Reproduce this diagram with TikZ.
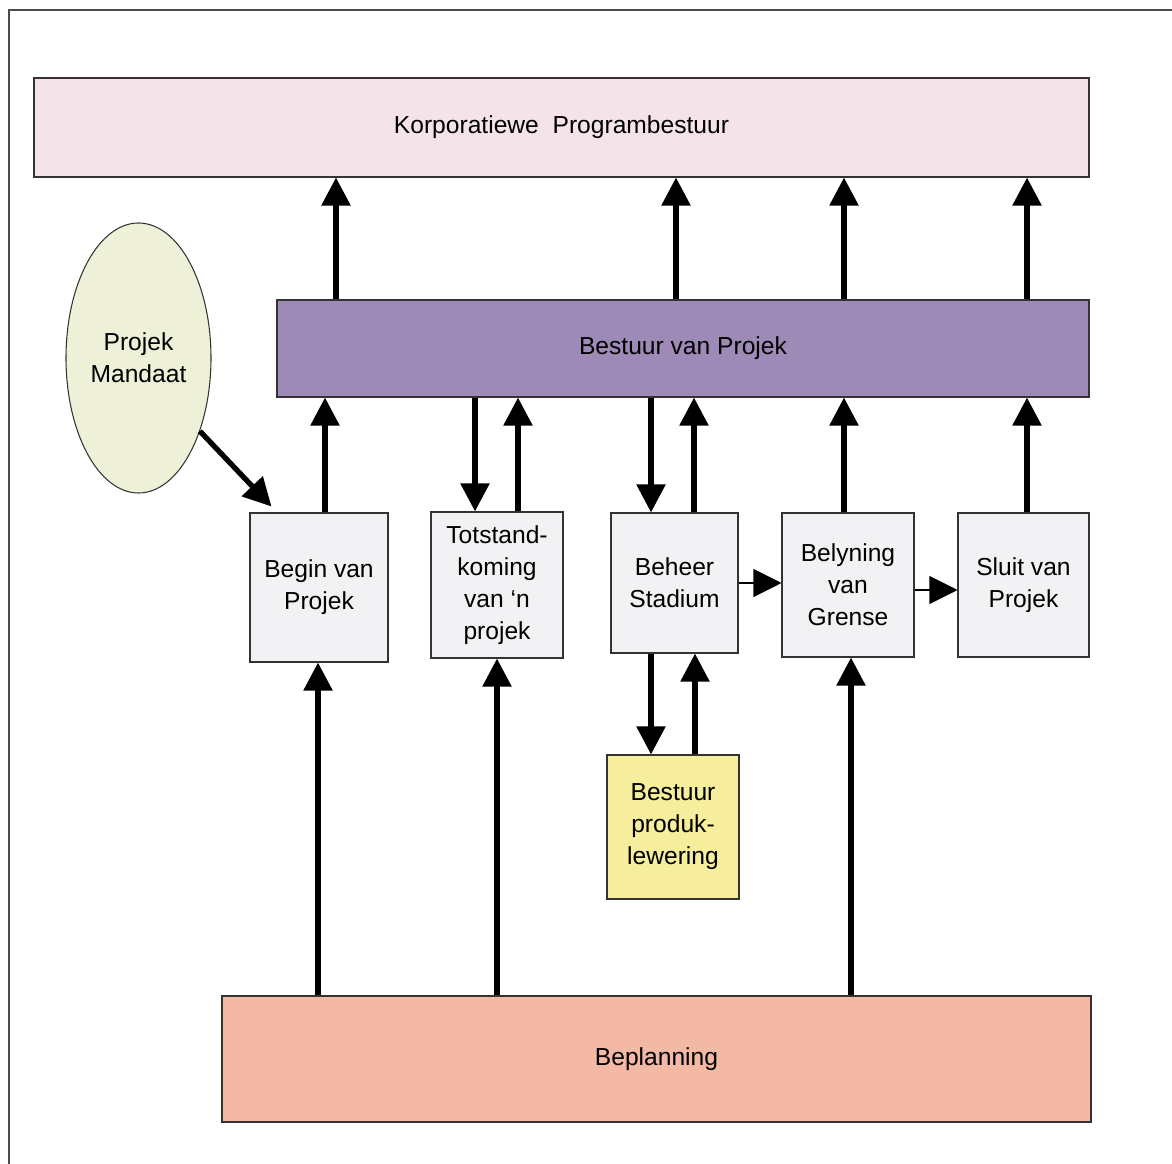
\documentclass[tikz,border=0pt]{standalone}
\usepackage{fontspec}
\setmainfont{Liberation Sans}
\usetikzlibrary{arrows.meta,shapes.geometric}
\definecolor{korpfill}{HTML}{F5E3EA}
\definecolor{bestfill}{HTML}{9E8AB6}
\definecolor{mandfill}{HTML}{EEF1D8}
\definecolor{stagegray}{HTML}{F2F2F4}
\definecolor{produkfill}{HTML}{F6EE9C}
\definecolor{planfill}{HTML}{F4B9A5}
\begin{document}
\begin{tikzpicture}[x=0.2mm,y=-0.2mm,
  box/.style={draw=black!80, line width=0.6pt, align=center, inner sep=0pt,
    font=\fontsize{14}{18.2}\selectfont},
  stage/.style={box, fill=stagegray},
  link/.style={line width=3pt, -{Triangle[length=5.6mm,width=5.6mm]}},
  thinlink/.style={line width=0.6pt, -{Triangle[length=5.6mm,width=5.6mm]}},
]
\useasboundingbox (0,0) rectangle (1172,1164);
% outer frame
\draw[line width=0.6pt, black!70] (9,1164) -- (9,10) -- (1172,10);

% bands
\node[box, fill=korpfill, minimum width=211mm, minimum height=19.8mm] (korp) at (561.5,127.5)
  {Korporatiewe\hspace{0.28em} Programbestuur};
\node[box, fill=bestfill, minimum width=162.4mm, minimum height=19.4mm] (bestuur) at (683,348.5)
  {Bestuur van Projek};
\node[box, fill=planfill, minimum width=173.8mm, minimum height=25.2mm] (plan) at (656.5,1059)
  {Beplanning};

% mandate
\node[box, ellipse, fill=mandfill, minimum width=29mm, minimum height=54mm] (mandaat) at (138.5,358)
  {Projek\\Mandaat};

% stages
\node[stage, minimum width=27.6mm, minimum height=29.8mm] (begin) at (319,587.5) {Begin van\\Projek};
\node[stage, minimum width=26.4mm, minimum height=29.2mm] (tot) at (497,585) {Totstand-\\koming\\van ‘n\\projek};
\node[stage, minimum width=25.4mm, minimum height=28mm] (beheer) at (674.5,583) {Beheer\\Stadium};
\node[stage, minimum width=26.4mm, minimum height=28.8mm] (bely) at (848,585) {Belyning\\van\\Grense};
\node[stage, minimum width=26.2mm, minimum height=28.8mm] (sluit) at (1023.5,585) {Sluit van\\Projek};
\node[box, fill=produkfill, minimum width=26.4mm, minimum height=28.8mm] (produk) at (673,827)
  {Bestuur\\produk-\\lewering};

% project board reports upward
\foreach \dx in {-69.4mm,-1.4mm,32.2mm,68.8mm}
  \draw[link] ([xshift=\dx]bestuur.north) -- ([xshift=\dx]bestuur.north |- korp.south);

% stages to and from the project board
\draw[link] ([xshift=1.2mm]begin.north) -- ([xshift=1.2mm]begin.north |- bestuur.south);
\draw[link] ([xshift=-4.4mm]tot.north |- bestuur.south) -- ([xshift=-4.4mm]tot.north);
\draw[link] ([xshift=4.2mm]tot.north) -- ([xshift=4.2mm]tot.north |- bestuur.south);
\draw[link] ([xshift=-4.7mm]beheer.north |- bestuur.south) -- ([xshift=-4.7mm]beheer.north);
\draw[link] ([xshift=3.9mm]beheer.north) -- ([xshift=3.9mm]beheer.north |- bestuur.south);
\draw[link] ([xshift=-0.8mm]bely.north) -- ([xshift=-0.8mm]bely.north |- bestuur.south);
\draw[link] ([xshift=0.7mm]sluit.north) -- ([xshift=0.7mm]sluit.north |- bestuur.south);

% product delivery
\draw[link] ([xshift=-4.7mm]beheer.south) -- ([xshift=-4.7mm]beheer.south |- produk.north);
\draw[link] ([xshift=4.4mm]produk.north) -- ([xshift=4.4mm]produk.north |- beheer.south);

% planning feeds
\draw[link] ([xshift=-0.2mm]plan.north -| begin.south) -- ([xshift=-0.2mm]begin.south);
\draw[link] (plan.north -| tot.south) -- (tot.south);
\draw[link] ([xshift=0.6mm]plan.north -| bely.south) -- ([xshift=0.6mm]bely.south);

% stage sequence
\draw[thinlink] (beheer.east) -- (beheer.east -| bely.west);
\draw[thinlink] ([yshift=-1mm]bely.east) -- ([yshift=-1mm]bely.east -| sluit.west);

% mandate starts the project
\draw[link] (mandaat.-50) -- ([xshift=4.4mm,yshift=1.2mm]begin.north west);
\end{tikzpicture}
\end{document}
